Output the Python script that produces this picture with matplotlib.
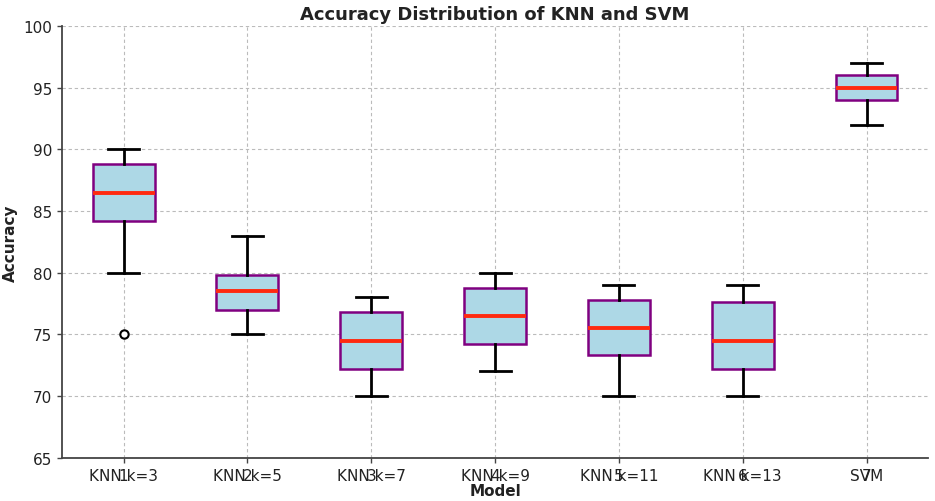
import matplotlib
matplotlib.use("Agg")
import matplotlib.pyplot as plt

# Box statistics
labels = ["KNN k=3", "KNN k=5", "KNN k=7", "KNN k=9", "KNN k=11", "KNN k=13", "SVM"]
whislo = [80, 75, 70, 72, 70, 70, 92]
q1 = [84.2, 77.0, 72.2, 74.2, 73.3, 72.2, 94.0]
med = [86.5, 78.5, 74.5, 76.5, 75.5, 74.5, 95.0]
q3 = [88.8, 79.8, 76.8, 78.8, 77.8, 77.6, 96.0]
whishi = [90, 83, 78, 80, 79, 79, 97]
fliers = [[75], [], [], [], [], [], []]

stats = []
for i in range(len(labels)):
    stats.append(dict(label=labels[i], whislo=whislo[i], q1=q1[i], med=med[i],
                      q3=q3[i], whishi=whishi[i], fliers=fliers[i]))

text_color = "#222222"
fig, ax = plt.subplots(figsize=(9.35, 5.02), dpi=100)
positions = list(range(1, len(labels) + 1))
ax.bxp(stats, positions=positions, widths=0.5, patch_artist=True,
       boxprops=dict(facecolor="lightblue", edgecolor="purple", linewidth=1.8),
       medianprops=dict(color="#ff2a10", linewidth=2.8),
       whiskerprops=dict(color="black", linewidth=2),
       capprops=dict(color="black", linewidth=2),
       flierprops=dict(marker="o", markerfacecolor="white", markeredgecolor="black",
                       markersize=6, markeredgewidth=1.5))

ax.set_xticks(positions)
ax.set_xticklabels(labels, fontsize=11, color=text_color)
# overlapping index labels, as in the original
ax.xaxis.remove_overlapping_locs = False
ax.set_xticks(positions, minor=True)
ax.set_xticklabels([str(p) for p in positions], minor=True, fontsize=11, color=text_color)
ax.tick_params(axis="x", which="minor", length=0, pad=7)
ax.tick_params(axis="both", which="major", color="#444444", width=1.0)

ax.set_ylim(65, 100)
ax.set_xlim(0.5, 7.5)
ax.tick_params(axis="y", labelsize=11, labelcolor=text_color)
ax.set_title("Accuracy Distribution of KNN and SVM", fontsize=13, fontweight="bold",
             color=text_color, pad=5)
ax.set_xlabel("Model", fontsize=11, fontweight="bold", labelpad=0, color=text_color)
ax.set_ylabel("Accuracy", fontsize=11, fontweight="bold", color=text_color)
ax.grid(True, linestyle=(0, (3, 2.5)), color="#bbbbbb", linewidth=0.8)
ax.set_axisbelow(True)
ax.spines["top"].set_visible(False)
ax.spines["right"].set_visible(False)
for side in ["left", "bottom"]:
    ax.spines[side].set_color("#444444")
    ax.spines[side].set_linewidth(1.3)

plt.subplots_adjust(left=0.066, right=0.993, top=0.946, bottom=0.086)
plt.savefig("out.png", dpi=100)
